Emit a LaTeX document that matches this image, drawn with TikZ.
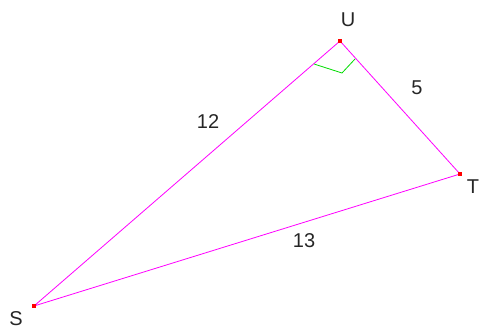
\documentclass[tikz,border=0pt]{standalone}
\usepackage{fontspec}
\setmainfont{Liberation Sans}
\definecolor{sidecol}{RGB}{255,0,255}
\definecolor{anglecol}{RGB}{0,220,0}
\tikzset{lbl/.style={font=\fontsize{20}{20}\selectfont, text=black!85, inner sep=1pt}}
\begin{document}
\begin{tikzpicture}[x=1pt,y=-1pt]
\useasboundingbox (0,0) rectangle (481,329);
\coordinate (S) at (34,306);
\coordinate (T) at (460,174);
\coordinate (U) at (340,41);
% right angle at U
\coordinate (a) at (314,64);
\coordinate (b) at (342,73);
\coordinate (c) at (355,59);
\draw[sidecol,line width=0.8pt] (S) -- (U) -- (T) -- cycle;
\draw[anglecol,line width=0.8pt] (a) -- (b) -- (c);
\foreach \p in {S,T,U}
  \fill[red] (\p) ++(-2,-2) rectangle ++(4,4);
\node[lbl] (lU) at (348,20) {U};
\node[lbl] (lT) at (473,187) {T};
\node[lbl] (lS) at (16,319) {S};
\node[lbl] (l12) at (208,122) {12};
\node[lbl] (l5) at (417,88) {5};
\node[lbl] (l13) at (304,241) {13};
\end{tikzpicture}
\end{document}
